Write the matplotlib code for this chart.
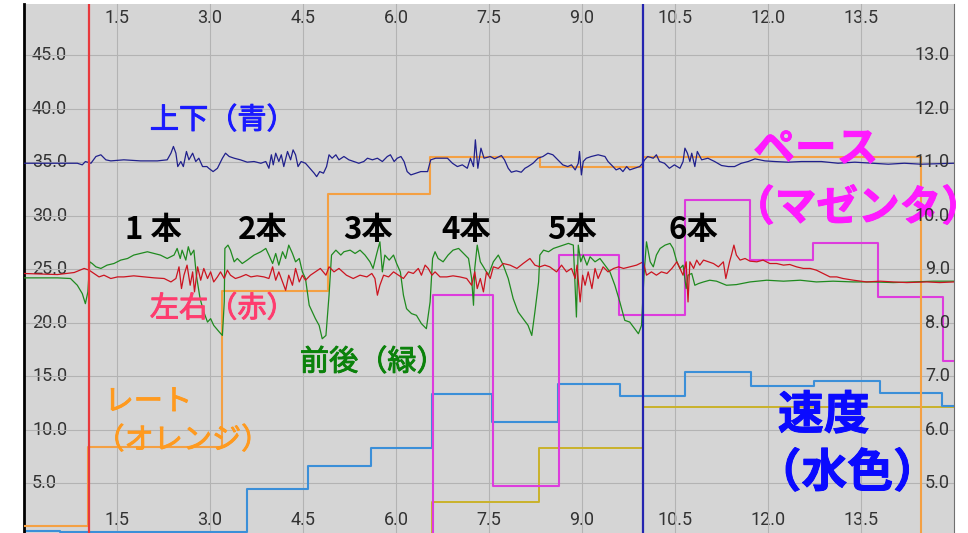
import numpy as np
import matplotlib.pyplot as plt
import matplotlib.patheffects as pe

plt.rcParams['font.family'] = ['Noto Sans CJK JP', 'DejaVu Sans']

# 上下 (青) - 左軸の値
blue_x = [0.00, 0.86, 0.94, 0.99, 1.08, 1.16, 1.24, 1.32, 1.40, 1.61,
          1.88, 2.15, 2.31, 2.37, 2.41, 2.45, 2.48, 2.53, 2.57, 2.62,
          2.66, 2.72, 2.77, 2.82, 2.88, 2.95, 2.98, 3.05, 3.12, 3.20,
          3.25, 3.31, 3.39, 3.49, 3.60, 3.71, 3.82, 3.90, 3.95, 3.99,
          4.02, 4.06, 4.11, 4.15, 4.19, 4.25, 4.30, 4.34, 4.38, 4.42,
          4.47, 4.54, 4.61, 4.68, 4.72, 4.77, 4.83, 4.88, 4.92, 4.97,
          5.03, 5.08, 5.16, 5.24, 5.32, 5.40, 5.48, 5.54, 5.62, 5.70,
          5.78, 5.86, 5.91, 5.97, 6.02, 6.08, 6.13, 6.18, 6.24, 6.32,
          6.40, 6.51, 6.56, 6.64, 6.75, 6.83, 6.91, 6.99, 7.07, 7.15,
          7.20, 7.25, 7.28, 7.32, 7.37, 7.42, 7.52, 7.59, 7.70, 7.75,
          7.81, 7.86, 7.94, 8.02, 8.08, 8.13, 8.21, 8.29, 8.37, 8.45,
          8.53, 8.61, 8.69, 8.77, 8.83, 8.89, 8.94, 8.96, 8.99, 9.02,
          9.07, 9.15, 9.26, 9.37, 9.42, 9.50, 9.55, 9.61, 9.66, 9.72,
          9.77, 9.85, 9.93, 9.98, 10.01, 10.06, 10.15, 10.20, 10.25, 10.33,
          10.41, 10.49, 10.58, 10.63, 10.66, 10.70, 10.74, 10.77, 10.82, 10.86,
          10.93, 11.03, 11.14, 11.25, 11.36, 11.46, 11.57, 11.68, 11.79, 11.95,
          12.11, 12.32, 12.54, 12.86, 13.13, 13.40, 13.67, 13.94, 14.20, 14.47,
          15.00]
blue_y = [34.92, 34.92, 34.77, 35.08, 34.92, 35.55, 35.71, 35.24, 35.14, 35.24,
          35.14, 35.14, 35.24, 35.86, 36.49, 35.86, 34.61, 35.08, 34.61, 36.02,
          35.24, 35.86, 35.08, 35.39, 34.61, 34.61, 34.45, 34.14, 34.45, 35.39,
          35.86, 35.55, 35.39, 35.24, 35.02, 35.08, 34.92, 35.08, 34.45, 35.71,
          34.77, 35.86, 35.08, 35.71, 34.61, 36.02, 35.24, 36.17, 35.71, 34.61,
          35.08, 34.92, 34.45, 33.99, 33.67, 34.14, 33.99, 34.61, 35.71, 35.39,
          35.71, 35.24, 35.55, 35.24, 35.08, 34.92, 35.08, 35.39, 35.24, 35.39,
          35.08, 35.55, 35.71, 35.08, 35.39, 35.55, 35.08, 34.14, 33.83, 33.99,
          34.14, 34.14, 35.24, 35.39, 35.39, 35.39, 34.92, 34.61, 34.77, 34.45,
          35.39, 34.61, 37.11, 34.45, 36.33, 35.39, 35.55, 35.33, 35.64, 35.24,
          34.45, 34.08, 34.21, 34.08, 34.45, 34.61, 34.92, 35.39, 35.55, 35.86,
          35.71, 35.24, 34.77, 34.61, 34.77, 34.30, 34.92, 36.02, 33.83, 35.08,
          35.39, 35.55, 35.71, 35.55, 35.08, 34.61, 34.30, 34.45, 34.14, 34.61,
          34.30, 34.45, 34.61, 34.92, 35.24, 35.55, 35.39, 35.71, 35.08, 34.92,
          34.45, 34.77, 34.45, 35.08, 36.33, 35.86, 35.08, 35.86, 34.61, 36.02,
          35.24, 35.39, 35.08, 34.71, 34.61, 34.61, 34.92, 35.08, 35.33, 35.14,
          35.08, 35.02, 35.08, 35.08, 34.92, 35.02, 34.92, 34.83, 34.92, 34.83,
          34.92]

# 左右 (赤)
red_x = [0.00, 0.54, 0.81, 0.97, 1.05, 1.13, 1.21, 1.29, 1.40, 1.51,
         1.61, 1.77, 1.94, 2.10, 2.26, 2.37, 2.45, 2.50, 2.54, 2.58,
         2.63, 2.68, 2.72, 2.75, 2.80, 2.85, 2.90, 2.96, 3.01, 3.06,
         3.12, 3.17, 3.23, 3.28, 3.33, 3.41, 3.49, 3.58, 3.66, 3.76,
         3.87, 3.95, 4.01, 4.06, 4.11, 4.17, 4.22, 4.27, 4.33, 4.38,
         4.44, 4.49, 4.54, 4.62, 4.70, 4.78, 4.87, 4.92, 5.00, 5.08,
         5.20, 5.31, 5.42, 5.53, 5.61, 5.66, 5.70, 5.74, 5.80, 5.88,
         5.96, 6.04, 6.12, 6.20, 6.28, 6.36, 6.41, 6.47, 6.52, 6.58,
         6.63, 6.71, 6.82, 6.92, 7.03, 7.14, 7.22, 7.27, 7.31, 7.36,
         7.41, 7.46, 7.52, 7.57, 7.65, 7.73, 7.84, 7.95, 8.05, 8.16,
         8.24, 8.32, 8.40, 8.48, 8.59, 8.67, 8.75, 8.83, 8.89, 8.92,
         8.97, 9.01, 9.05, 9.10, 9.16, 9.21, 9.26, 9.34, 9.42, 9.51,
         9.59, 9.67, 9.77, 9.88, 9.99,
         10.04, 10.12, 10.20, 10.28, 10.37, 10.45, 10.53, 10.58, 10.63, 10.68,
         10.71, 10.74, 10.80, 10.85, 10.90, 10.96, 11.04, 11.12, 11.20, 11.28,
         11.32, 11.38, 11.41, 11.45, 11.49, 11.55, 11.63, 11.71, 11.82, 11.92,
         12.03, 12.14, 12.25, 12.35, 12.46, 12.57, 12.68, 12.78, 12.89, 13.00,
         13.11, 13.21, 13.38, 13.59, 13.81, 14.02, 14.24, 14.56, 14.77, 15.00]
red_y = [24.62, 24.52, 24.71, 25.09, 24.93, 24.62, 24.30, 24.46, 24.15, 24.30,
         24.30, 24.40, 24.30, 24.21, 24.15, 23.83, 24.15, 25.24, 23.21, 24.46,
         25.40, 23.52, 24.77, 22.90, 25.24, 23.99, 25.09, 24.15, 24.77, 23.83,
         24.30, 24.77, 24.15, 24.93, 24.46, 24.15, 24.30, 24.52, 24.30, 24.40,
         24.30, 24.15, 25.24, 23.99, 24.77, 23.83, 23.05, 24.46, 23.52, 25.09,
         23.83, 24.46, 23.99, 24.46, 24.77, 25.09, 24.46, 25.24, 24.77, 25.09,
         24.46, 24.15, 24.46, 24.30, 24.62, 24.15, 22.59, 23.52, 24.46, 24.30,
         24.77, 24.46, 24.15, 24.77, 24.62, 25.09, 24.46, 25.40, 25.09, 24.46,
         24.77, 24.30, 24.30, 24.40, 24.30, 24.15, 23.52, 24.77, 23.21, 24.15,
         22.90, 24.77, 24.15, 25.24, 25.09, 25.55, 25.40, 25.09, 25.55, 26.02,
         25.40, 25.24, 25.40, 25.24, 24.77, 25.40, 24.77, 25.09, 24.15, 25.40,
         21.96, 24.46, 23.52, 24.77, 23.21, 25.09, 24.15, 25.24, 24.77, 25.09,
         25.24, 25.09, 25.24, 25.40, 25.71,
         24.46, 24.77, 24.46, 24.77, 24.62, 25.09, 25.71, 25.09, 24.46, 25.71,
         21.96, 25.71, 25.09, 25.87, 25.40, 25.87, 25.71, 25.55, 25.24, 25.71,
         24.15, 25.71, 26.34, 27.27, 26.34, 25.87, 26.02, 25.77, 25.71, 25.87,
         25.55, 25.55, 25.40, 25.46, 25.24, 25.09, 25.09, 24.93, 24.62, 24.30,
         24.30, 24.15, 23.99, 23.83, 23.90, 23.83, 23.77, 23.83, 23.77, 23.83]

# 前後 (緑)
green_x = [0.00, 0.54, 0.75, 0.86, 0.94, 0.99, 1.03, 1.06, 1.10, 1.16,
           1.24, 1.34, 1.45, 1.56, 1.67, 1.77, 1.88, 1.99, 2.10, 2.20,
           2.31, 2.42, 2.47, 2.52, 2.55, 2.61, 2.65, 2.69, 2.74, 2.78,
           2.84, 2.90, 2.96, 3.01, 3.06, 3.15, 3.20, 3.23, 3.24, 3.29,
           3.33, 3.39, 3.44, 3.52, 3.60, 3.71, 3.82, 3.90, 3.95, 4.01,
           4.06, 4.11, 4.17, 4.22, 4.27, 4.33, 4.38, 4.44, 4.49, 4.54,
           4.60, 4.65, 4.70, 4.76, 4.81, 4.87, 4.92, 4.96, 5.03, 5.11,
           5.16, 5.26, 5.34, 5.42, 5.50, 5.58, 5.63, 5.69, 5.74, 5.78,
           5.82, 5.89, 5.96, 6.01, 6.07, 6.12, 6.17, 6.25, 6.33, 6.41,
           6.49, 6.55, 6.59, 6.63, 6.68, 6.76, 6.84, 6.92, 7.01, 7.09,
           7.17, 7.22, 7.25, 7.27, 7.31, 7.36, 7.41, 7.49, 7.57, 7.65,
           7.73, 7.81, 7.89, 7.97, 8.05, 8.13, 8.19, 8.24, 8.30, 8.32,
           8.38, 8.46, 8.54, 8.62, 8.70, 8.78, 8.86, 8.91, 8.94, 8.98,
           9.02, 9.08, 9.13, 9.21, 9.29, 9.37, 9.45, 9.53, 9.61, 9.69,
           9.77, 9.85, 9.91, 9.96, 10.00, 10.04,
           10.10, 10.15, 10.20, 10.26, 10.34, 10.42, 10.47, 10.53, 10.58, 10.63,
           10.68, 10.71, 10.77, 10.82, 10.88, 10.96, 11.06, 11.17, 11.33, 11.49,
           11.71, 11.98, 12.25, 12.52, 12.78, 13.05, 13.38, 13.70, 14.02, 14.34,
           14.67, 15.00]
green_y = [24.21, 24.21, 24.15, 23.52, 22.74, 21.80, 22.90, 25.71, 25.55, 25.24,
           25.09, 25.40, 25.55, 25.87, 26.02, 26.34, 26.49, 26.65, 26.49, 26.34,
           26.02, 26.34, 26.96, 26.02, 26.80, 25.87, 27.12, 26.34, 26.80, 24.46,
           22.27, 21.02, 20.08, 20.40, 19.77, 19.15, 18.83, 21.96, 26.96, 27.27,
           26.80, 25.71, 26.02, 25.55, 25.87, 26.34, 26.65, 26.96, 26.34, 25.55,
           26.49, 25.40, 26.65, 26.02, 27.27, 26.49, 25.71, 26.02, 24.77, 24.15,
           21.65, 21.02, 20.40, 19.77, 18.52, 18.83, 22.59, 26.34, 26.80, 26.34,
           26.65, 26.80, 26.49, 26.80, 26.34, 25.71, 25.09, 26.49, 27.58, 24.77,
           26.34, 25.87, 26.34, 25.55, 24.77, 22.59, 21.33, 20.87, 20.71, 19.93,
           19.46, 21.96, 26.02, 26.65, 26.02, 25.71, 26.34, 26.80, 26.96, 26.49,
           26.02, 24.15, 21.65, 25.09, 27.27, 25.71, 25.24, 24.46, 25.71, 26.34,
           25.40, 24.15, 22.27, 21.02, 20.40, 19.77, 18.83, 21.02, 23.83, 26.34,
           26.80, 26.65, 26.96, 27.12, 27.27, 27.43, 27.27, 20.55, 27.27, 25.71,
           26.34, 25.40, 26.18, 25.71, 26.02, 25.40, 24.77, 23.52, 21.96, 20.24,
           20.08, 19.46, 18.99, 19.77, 24.46, 27.58,
           25.71, 25.24, 26.34, 26.96, 27.27, 27.43, 26.96, 25.71, 25.09, 25.40,
           23.21, 24.46, 24.62, 23.52, 23.68, 23.83, 23.99, 23.90, 23.52, 23.58,
           23.83, 23.99, 23.90, 23.99, 23.83, 23.90, 23.83, 23.83, 23.77, 23.83,
           23.90, 23.90]

# レート (オレンジ), 速度 (水色), ペース (マゼンタ), その他 (黄) - 階段状
rate_x = [0.0, 1.04, 3.20, 4.90, 6.55, 8.32, 9.98, 14.46, 15.0]
rate_y = [1.0, 8.4, 23.0, 32.0, 35.5, 34.6, 35.5, -2.0, -2.0]

speed_x = [0.0, 0.58, 3.60, 4.58, 5.60, 6.58, 7.55, 8.61, 9.62, 10.66, 11.72, 12.74, 13.80, 14.81, 15.0]
speed_y = [0.55, 0.45, 4.5, 6.6, 8.35, 13.4, 10.7, 14.25, 13.15, 15.45, 14.1, 14.55, 13.45, 12.25, 12.25]

pace_x = [6.5, 6.60, 7.57, 8.63, 9.60, 10.66, 11.71, 12.73, 13.78, 14.83, 15.0]
pace_y = [-2.0, 22.6, 4.75, 26.3, 20.7, 31.5, 25.9, 27.5, 22.45, 16.4, 16.4]

yellow_x = [6.5, 6.58, 8.30, 9.99, 15.0]
yellow_y = [-2.0, 3.25, 8.3, 12.1, 12.1]

cursor_red = 1.05
cursor_blue = 9.98

x_ticks = [1.5, 3.0, 4.5, 6.0, 7.5, 9.0, 10.5, 12.0, 13.5]
left_ticks = [5, 10, 15, 20, 25, 30, 35, 40, 45]
right_ticks = [5, 6, 7, 8, 9, 10, 11, 12, 13]

fig = plt.figure(figsize=(9.68, 5.33), dpi=100)
ax = fig.add_axes([24 / 968, 0, 930 / 968, 529 / 533])
ax.set_facecolor('#d5d5d5')
ax.set_xlim(0, 15)
ax.set_ylim(0.37, 49.8)
ax.set_xticks(x_ticks)
ax.set_yticks(left_ticks)
ax.grid(True, color='#b3b3b3', lw=0.8)
ax.tick_params(length=0, labelleft=False, labelbottom=False)
for s in ['top', 'bottom']:
    ax.spines[s].set_visible(False)
ax.spines['left'].set_color('black')
ax.spines['left'].set_linewidth(2)
ax.spines['right'].set_color('#707070')

# 右軸 (左軸の値 / 5 + 4)
ax2 = ax.twinx()
ax2.set_ylim(0.37 / 5 + 4, 49.8 / 5 + 4)
ax2.set_yticks([])
ax2.spines[:].set_visible(False)

tick_font = dict(family=['Roboto', 'DejaVu Sans'], fontsize=13, color='#333333', zorder=1)
for v in left_ticks:
    ax.text(8 / 930, v, f'{v:.1f}', transform=ax.get_yaxis_transform(), ha='left', va='center', **tick_font)
for v in right_ticks:
    ax2.text(1 - 4 / 930, v, f'{v:.1f}', transform=ax2.get_yaxis_transform(), ha='right', va='center', **tick_font)
for v in x_ticks:
    ax.text(v, 0.9735, f'{v:.1f}', transform=ax.get_xaxis_transform(), ha='center', va='center', **tick_font)
    ax.text(v, 0.0246, f'{v:.1f}', transform=ax.get_xaxis_transform(), ha='center', va='center', **tick_font)

ax.step(yellow_x, yellow_y, where='post', color='#c9b22a', lw=1.4, zorder=2)
ax.step(speed_x, speed_y, where='post', color='#3b8fd8', lw=1.5, zorder=2)
ax.step(pace_x, pace_y, where='post', color='#dd3cdd', lw=1.5, zorder=3)
ax.step(rate_x, rate_y, where='post', color='#f4a043', lw=1.5, zorder=3)
ax.plot(green_x, green_y, color='#1f8a1f', lw=0.9, zorder=4)
ax.plot(red_x, red_y, color='#cc1420', lw=0.9, zorder=5)
ax.plot(blue_x, blue_y, color='#20208c', lw=0.9, zorder=5)
ax.axvline(cursor_red, color='#e8383c', lw=1.6, zorder=6)
ax.axvline(cursor_blue, color='#2424b0', lw=1.6, zorder=6)

# 注釈 (少し太めに見せるため同色で縁取り)
def note(x, y, s, color, size=21, weight='normal', ha='left', **kw):
    t = ax.text(x, y, s, color=color, fontsize=size, fontweight=weight, ha=ha, va='center', zorder=8, **kw)
    t.set_path_effects([pe.withStroke(linewidth=0.7, foreground=color)])
    return t

note(2.03, 38.9, '上下（青）', '#1a1aff')
note(2.03, 21.3, '左右（赤）', '#ff3c6e')
note(4.45, 16.3, '前後（緑）', '#0b820b')
note(1.30, 12.6, 'レート', '#ff9a1f')
note(2.56, 9.0, '（オレンジ）', '#ff9a1f', ha='center')
for lbl, xl in zip(['1 本', '2本', '3本', '4本', '5本', '6本'], [1.63, 3.45, 5.15, 6.73, 8.44, 10.40]):
    ax.text(xl, 28.7, lbl, color='black', fontsize=22.5, fontweight='bold', ha='left', va='center', zorder=8)
note(12.77, 36.2, 'ペース', '#ff1aff', size=30, weight='bold', ha='center')
note(13.45, 30.7, '（マゼンタ）', '#ff1aff', size=30, weight='bold', ha='center', clip_on=False)
note(12.9, 11.3, '速度', '#0a0aff', size=33, weight='bold', ha='center')
note(13.28, 5.9, '（水色）', '#0a0aff', size=33, weight='bold', ha='center')

fig.savefig('out.png', dpi=100)
